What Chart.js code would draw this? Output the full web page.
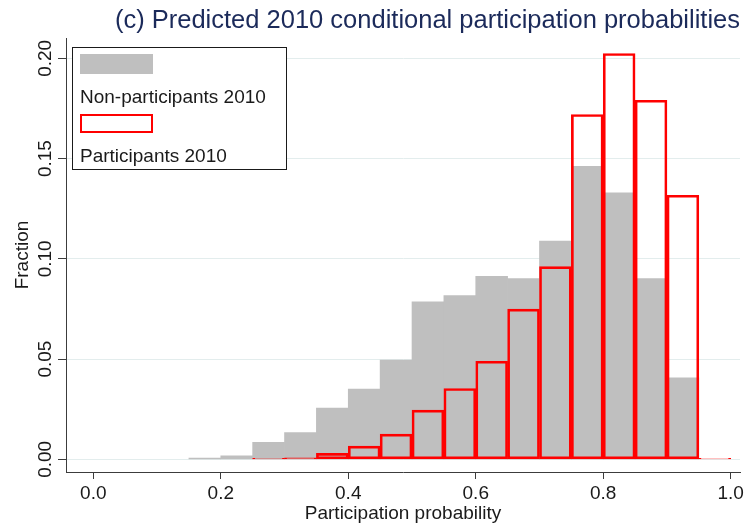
<!DOCTYPE html>
<html>
<head>
<meta charset="utf-8">
<script src="https://cdn.jsdelivr.net/npm/chart.js@4"></script>
<style>html,body{margin:0;padding:0;background:#fff}canvas{display:block}</style>
</head>
<body>
<canvas id="c" width="750" height="529"></canvas>
<script>
const titleText = '(c) Predicted 2010 conditional participation probabilities';
const xTitle = 'Participation probability';
const yTitle = 'Fraction';
const seriesNames = ['Non-participants 2010', 'Participants 2010'];
const binWidth = 0.05;
const binStarts = [0.15, 0.20, 0.25, 0.30, 0.35, 0.40, 0.45, 0.50, 0.55, 0.60, 0.65, 0.70, 0.75, 0.80, 0.85, 0.90, 0.95];
const nonParticipants = [0.0006, 0.0017, 0.0085, 0.0133, 0.0255, 0.0350, 0.0495, 0.0785, 0.0817, 0.0913, 0.0902, 0.1088, 0.1462, 0.1329, 0.0902, 0.0406, null];
const participants = [null, null, 0.0005, 0.0008, 0.0030, 0.0066, 0.0126, 0.0245, 0.0353, 0.0489, 0.0749, 0.0961, 0.1720, 0.2024, 0.1791, 0.1317, 0.0005];
const xTicks = [0, 0.2, 0.4, 0.6, 0.8, 1.0];
const xTickLabels = ['0.0', '0.2', '0.4', '0.6', '0.8', '1.0'];
const yTicks = [0, 0.05, 0.10, 0.15, 0.20];
const yTickLabels = ['0.00', '0.05', '0.10', '0.15', '0.20'];

const FONT = "'Liberation Sans', Arial, sans-serif";
const TXT = '#1a1a1a';
const AXIS = '#3c3c3c';
const GRID = '#e3eded';
const GRAY = '#bfbfbf';
const RED = '#ff0000';

function toPoints(vals) {
  const pts = [];
  binStarts.forEach((s, i) => { if (vals[i] !== null) pts.push({x: s + binWidth / 2, y: vals[i]}); });
  return pts;
}

const yTickPlugin = {
  id: 'yTickLabels',
  afterDraw(chart) {
    const ctx = chart.ctx, ys = chart.scales.y;
    ctx.save();
    ctx.fillStyle = TXT;
    ctx.font = '19px ' + FONT;
    ctx.textAlign = 'center';
    ctx.textBaseline = 'alphabetic';
    yTicks.forEach((v, i) => {
      const py = ys.getPixelForValue(v);
      ctx.save();
      ctx.translate(51, py);
      ctx.rotate(-Math.PI / 2);
      ctx.fillText(yTickLabels[i], 0, 0);
      ctx.restore();
    });
    ctx.restore();
  }
};

const legendPlugin = {
  id: 'boxLegend',
  afterDatasetsDraw(chart) {
    const ctx = chart.ctx;
    ctx.save();
    ctx.fillStyle = '#ffffff';
    ctx.fillRect(72.5, 47.5, 214, 122);
    ctx.strokeStyle = '#1a1a1a';
    ctx.lineWidth = 1;
    ctx.strokeRect(72.5, 47.5, 214, 122);
    ctx.fillStyle = GRAY;
    ctx.fillRect(80, 54, 73, 20);
    ctx.strokeStyle = RED;
    ctx.lineWidth = 2;
    ctx.strokeRect(81, 115, 71, 17);
    ctx.fillStyle = TXT;
    ctx.font = '19px ' + FONT;
    ctx.textAlign = 'left';
    ctx.textBaseline = 'alphabetic';
    ctx.fillText(seriesNames[0], 80, 103);
    ctx.fillText(seriesNames[1], 80, 162);
    ctx.restore();
  }
};

new Chart(document.getElementById('c'), {
  type: 'bar',
  data: {
    datasets: [
      {
        label: seriesNames[1],
        data: toPoints(participants),
        backgroundColor: 'rgba(0,0,0,0)',
        borderColor: RED,
        borderWidth: 2,
        borderSkipped: false,
        grouped: false,
        barPercentage: 1,
        categoryPercentage: 1,
        order: 0
      },
      {
        label: seriesNames[0],
        data: toPoints(nonParticipants),
        backgroundColor: GRAY,
        borderColor: GRAY,
        borderWidth: 0,
        grouped: false,
        barPercentage: 1,
        categoryPercentage: 1,
        order: 1
      }
    ]
  },
  options: {
    responsive: false,
    animation: false,
    devicePixelRatio: 1,
    layout: {padding: {left: 0, right: 10, top: 0, bottom: 0}},
    plugins: {
      legend: {display: false},
      tooltip: {enabled: false},
      title: {
        display: true,
        text: titleText,
        align: 'end',
        color: '#1b2a5a',
        font: {family: FONT, size: 25.5, weight: 'normal', lineHeight: 1.2},
        padding: {top: 5.5, bottom: 2}
      }
    },
    scales: {
      x: {
        type: 'linear',
        offset: false,
        min: -0.04283,
        max: 1.01459,
        afterBuildTicks: s => { s.ticks = xTicks.map(v => ({value: v})); },
        afterFit: s => { s.height = 57; },
        ticks: {
          color: TXT,
          font: {family: FONT, size: 19},
          padding: 3,
          maxRotation: 0,
          autoSkip: false,
          callback: (v) => { const i = xTicks.findIndex(t => Math.abs(t - v) < 1e-9); return i >= 0 ? xTickLabels[i] : ''; }
        },
        grid: {display: true, offset: false, drawOnChartArea: false, drawTicks: true, tickLength: 7, tickColor: AXIS, tickWidth: 1},
        border: {display: true, color: AXIS, width: 1},
        title: {display: true, text: xTitle, color: TXT, font: {family: FONT, size: 19}, padding: {top: 0, bottom: 4}}
      },
      y: {
        type: 'linear',
        min: -0.00633,
        max: 0.2101,
        afterBuildTicks: s => { s.ticks = yTicks.map(v => ({value: v})); },
        afterFit: s => { s.width = 66; },
        ticks: {display: false},
        grid: {display: true, color: GRID, lineWidth: 1, drawTicks: true, tickLength: 8, tickColor: AXIS, tickWidth: 1},
        border: {display: true, color: AXIS, width: 1},
        title: {display: true, text: yTitle, color: TXT, font: {family: FONT, size: 19}, padding: {top: 11, bottom: 0}}
      }
    }
  },
  plugins: [yTickPlugin, legendPlugin]
});
</script>
</body>
</html>
